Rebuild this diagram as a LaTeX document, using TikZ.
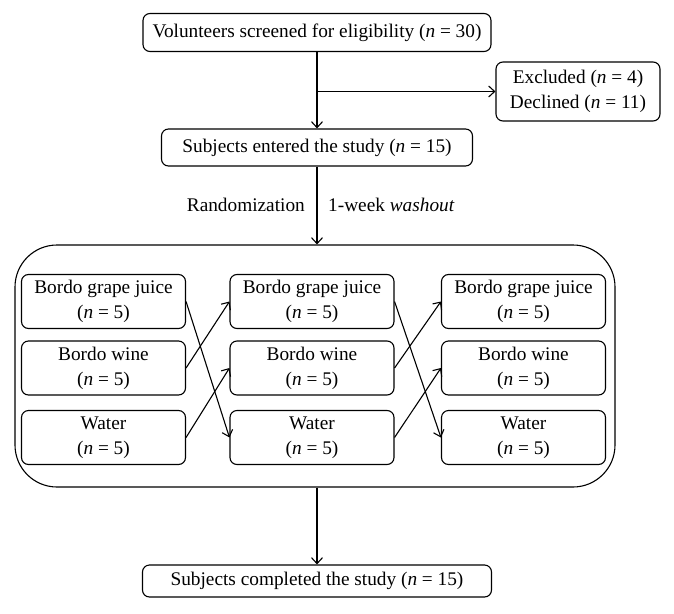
\documentclass[tikz,border=0pt]{standalone}
\usepackage{fontspec}
\setmainfont{Liberation Serif}
\usetikzlibrary{arrows.meta}

\tikzset{
	box/.style={draw, rounded corners=7pt, line width=1.1pt, align=center,
		inner sep=0pt, font=\fontsize{19.3}{25}\selectfont},
	arm/.style={box, minimum width=164pt, minimum height=54pt},
	flow/.style={line width=1.1pt, -{Straight Barb[length=6pt,width=11pt]}},
	lbl/.style={font=\fontsize{19.3}{25}\selectfont, inner sep=0pt}
}

\begin{document}
\begin{tikzpicture}[x=1pt, y=-1pt]
		\useasboundingbox (0,0) rectangle (674,613);
		\node[box, minimum width=348pt, minimum height=38pt] (screen) at (317,32.5)
			{Volunteers screened for eligibility (\textit{n} = 30)};
		\node[box, minimum width=164pt, minimum height=59pt] (excl) at (578,91.5)
			{Excluded (\textit{n} = 4)\\Declined (\textit{n} = 11)};
		\node[box, minimum width=311pt, minimum height=37pt] (entered) at (317,147.5)
			{Subjects entered the study (\textit{n} = 15)};
		\node[lbl, anchor=east] (rand) at (305,205) {Randomization};
		\node[lbl, anchor=west] (wash) at (328,205) {1-week \textit{washout}};
		% the three periods
		\node[draw, line width=1.1pt, rounded corners=42pt, minimum width=600pt,
			minimum height=242pt] (arms) at (315,366) {};
		\foreach \i/\x in {1/103.5, 2/312, 3/523.5} {
			\node[arm] (juice\i) at (\x,301.5) {Bordo grape juice\\(\textit{n} = 5)};
			\node[arm] (wine\i) at (\x,368) {Bordo wine\\(\textit{n} = 5)};
			\node[arm] (water\i) at (\x,437.5) {Water\\(\textit{n} = 5)};
		}
		\node[box, minimum width=349pt, minimum height=32pt] (done) at (317,581)
			{Subjects completed the study (\textit{n} = 15)};
		\draw[flow] (screen.south) -- (entered.north);
		\draw[flow] (screen.south |- excl.west) -- (excl.west);
		\draw[flow] (entered.south) -- (entered.south |- arms.north);
		\draw[flow] (done.north |- arms.south) -- (done.north);
		\foreach \a/\b in {1/2, 2/3} {
			\draw[flow] (juice\a.east) -- (water\b.west);
			\draw[flow] (wine\a.east) -- (juice\b.west);
			\draw[flow] (water\a.east) -- (wine\b.west);
		}
\end{tikzpicture}
\end{document}
